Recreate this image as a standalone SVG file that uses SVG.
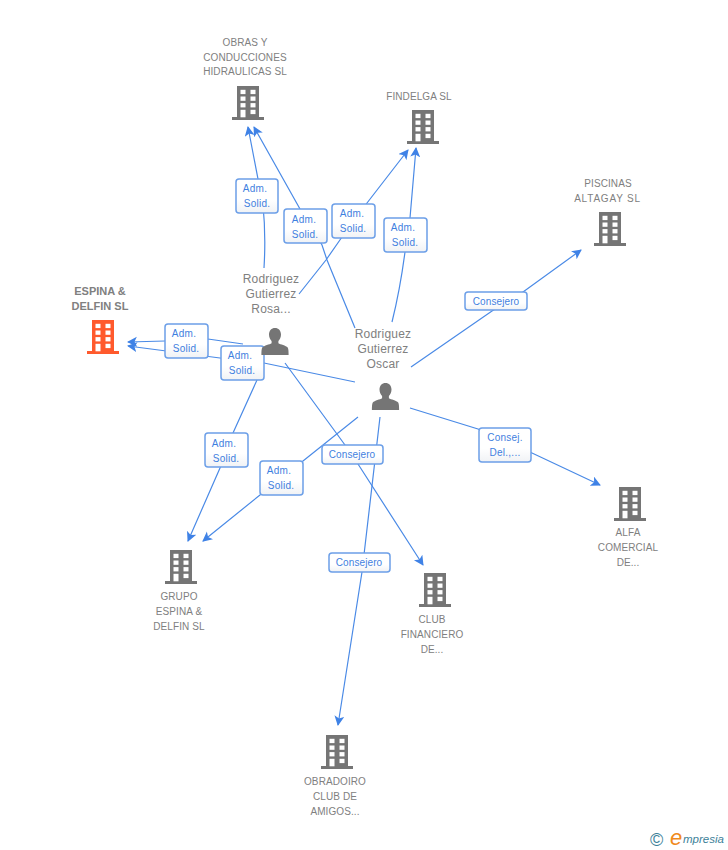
<svg xmlns="http://www.w3.org/2000/svg" width="728" height="850" viewBox="0 0 728 850">
<style>
.c{fill:none;stroke:#4a8ae6;stroke-width:1.2}
.n{font:10px "Liberation Sans",Arial,sans-serif;fill:#808080;text-anchor:middle;letter-spacing:.1px}
.p{font:12px "Liberation Sans",Arial,sans-serif;fill:#808080;text-anchor:middle;letter-spacing:.2px}
.b{font:bold 11px "Liberation Sans",Arial,sans-serif;fill:#808080;text-anchor:middle}
.l{font:10px "Liberation Sans",Arial,sans-serif;fill:#3f7fe0;text-anchor:middle;letter-spacing:.25px}
.k{letter-spacing:.1px}
.box{fill:url(#g);stroke:#6c9fe8;stroke-width:1.5}
.w{fill:#fff}
</style>
<defs>
<linearGradient id="g" x1="0" y1="0" x2="0" y2="1"><stop offset="0" stop-color="#fff"/><stop offset=".6" stop-color="#fff"/><stop offset="1" stop-color="#f0f2f5"/></linearGradient>
<marker id="a" markerWidth="11" markerHeight="11" refX="9" refY="5" orient="auto" markerUnits="userSpaceOnUse"><path d="M0 0L10 5L0 10L2.500 5Z" fill="#3f82e6"/></marker>
<symbol id="bld" width="32" height="34" overflow="visible">
<path d="M5 0H27V31H32V34H0V31H5Z"/>
<g class="w"><rect x="8.5" y="3.800" width="5" height="4.300"/><rect x="18.500" y="3.800" width="5" height="4.300"/><rect x="8.5" y="10.500" width="5" height="4.300"/><rect x="18.500" y="10.500" width="5" height="4.300"/><rect x="8.5" y="17.100" width="5" height="4.300"/><rect x="18.500" y="17.100" width="5" height="4.300"/><rect x="8.5" y="23.800" width="5" height="7.500"/><rect x="18.500" y="23.800" width="5" height="4.300"/></g>
</symbol>
<symbol id="per" width="28" height="28" overflow="visible">
<path d="M14 0c3.500 0 6 2.700 6 6.500c0 2.800-1.200 5-2.600 6.500v2.300c2 1.200 7.500 2.300 9.300 4.200c.8 1 .9 4.500.9 7.500H.4c0-3 .1-6.500.9-7.500c1.800-1.900 7.300-3 9.300-4.200V13C9.200 11.500 8 9.300 8 6.500C8 2.700 10.500 0 14 0Z"/>
</symbol>
</defs>
<rect width="728" height="850" fill="#fff"/>
<g id="connectors">
<path class="c" marker-end="url(#a)" d="M264 268Q266 235 263 205L248 127"/>
<path class="c" marker-end="url(#a)" d="M355 328L327 260L322 245L300 209L254 127"/>
<path class="c" marker-end="url(#a)" d="M299 294L326 260L342 237L367 203L408 150"/>
<path class="c" marker-end="url(#a)" d="M392 322Q400 290 405 252L410 218L416 148"/>
<path class="c" marker-end="url(#a)" d="M411 367L492 311L523 292L581 250"/>
<path class="c" marker-end="url(#a)" d="M410 408L478 429L532 453L600 485"/>
<path class="c" marker-end="url(#a)" d="M285 363L345 445L358 464L423 565"/>
<path class="c" marker-end="url(#a)" d="M380 417L362 572L338 725"/>
<path class="c" marker-end="url(#a)" d="M358 417L303 461L260 495L203 541"/>
<path class="c" marker-end="url(#a)" d="M257 380L233 433L220 468L188 541"/>
<path class="c" marker-end="url(#a)" d="M243 344L208 339L165 341L128 342"/>
<path class="c" marker-end="url(#a)" d="M355 382L264 363L220 358L128 346"/>
</g>
<g id="labels">
<g id="lb1"><rect class="box" x="236" y="179" width="42" height="34" rx="3"/><text class="l" x="255" y="192">Adm.</text><text class="l" x="257" y="207">Solid.</text></g>
<g id="lb2"><rect class="box" x="284" y="209" width="43" height="34" rx="3"/><text class="l" x="304" y="223">Adm.</text><text class="l" x="305" y="238">Solid.</text></g>
<g id="lb3"><rect class="box" x="332" y="204" width="43" height="34" rx="3"/><text class="l" x="352" y="217">Adm.</text><text class="l" x="353" y="232">Solid.</text></g>
<g id="lb4"><rect class="box" x="384" y="218" width="43" height="34" rx="3"/><text class="l" x="403" y="231">Adm.</text><text class="l" x="405" y="246">Solid.</text></g>
<g id="lb5"><rect class="box" x="465" y="292" width="62" height="18" rx="3"/><text class="l k" x="496" y="305">Consejero</text></g>
<g id="lb6"><rect class="box" x="165" y="324" width="43" height="34" rx="3"/><text class="l" x="184" y="337">Adm.</text><text class="l" x="186" y="352">Solid.</text></g>
<g id="lb7"><rect class="box" x="221" y="346" width="43" height="34" rx="3"/><text class="l" x="240" y="359">Adm.</text><text class="l" x="242" y="374">Solid.</text></g>
<g id="lb8"><rect class="box" x="205" y="433" width="43" height="34" rx="3"/><text class="l" x="224" y="447">Adm.</text><text class="l" x="226" y="462">Solid.</text></g>
<g id="lb9"><rect class="box" x="260" y="461" width="43" height="34" rx="3"/><text class="l" x="279" y="474">Adm.</text><text class="l" x="281" y="489">Solid.</text></g>
<g id="lb10"><rect class="box" x="322" y="445" width="61" height="19" rx="3"/><text class="l k" x="352" y="458">Consejero</text></g>
<g id="lb11"><rect class="box" x="479" y="428" width="52" height="34" rx="3"/><text class="l" x="505" y="441">Consej.</text><text class="l" x="505" y="456">Del.,...</text></g>
<g id="lb12"><rect class="box" x="329" y="553" width="61" height="19" rx="3"/><text class="l k" x="359" y="566">Consejero</text></g>
</g>
<g id="obras"><text class="n" x="245" y="46">OBRAS Y</text><text class="n" x="245" y="61">CONDUCCIONES</text><text class="n" x="245" y="75">HIDRAULICAS SL</text><use href="#bld" x="232" y="86" fill="#757575"/></g>
<g id="findelga"><text class="n" x="419" y="100">FINDELGA SL</text><use href="#bld" x="407" y="110" fill="#757575"/></g>
<g id="piscinas"><text class="n" x="608" y="187">PISCINAS</text><text class="n" x="607.500" y="202" style="letter-spacing:.8px">ALTAGAY SL</text><use href="#bld" x="594" y="212" fill="#757575"/></g>
<g id="espina"><text class="b" x="100" y="295">ESPINA &amp;</text><text class="b" x="100" y="310">DELFIN SL</text><use href="#bld" x="87" y="320" fill="#ff5a2d"/></g>
<g id="rosa"><text class="p" x="271" y="283">Rodriguez</text><text class="p" x="271" y="298">Gutierrez</text><text class="p" x="271" y="313">Rosa...</text><use href="#per" x="261" y="328" fill="#757575"/></g>
<g id="oscar"><text class="p" x="383" y="338">Rodriguez</text><text class="p" x="383" y="353">Gutierrez</text><text class="p" x="383" y="368">Oscar</text><use href="#per" x="371.500" y="383" fill="#757575"/></g>
<g id="alfa"><use href="#bld" x="614" y="487" fill="#757575"/><text class="n" x="628" y="536">ALFA</text><text class="n" x="628" y="551">COMERCIAL</text><text class="n" x="628" y="566">DE...</text></g>
<g id="grupo"><use href="#bld" x="165" y="550" fill="#757575"/><text class="n" x="179" y="600">GRUPO</text><text class="n" x="179" y="615">ESPINA &amp;</text><text class="n" x="179" y="630">DELFIN SL</text></g>
<g id="club"><use href="#bld" x="419" y="573" fill="#757575"/><text class="n" x="432" y="623">CLUB</text><text class="n" x="432" y="638">FINANCIERO</text><text class="n" x="432" y="653">DE...</text></g>
<g id="obradoiro"><use href="#bld" x="321" y="735" fill="#757575"/><text class="n" x="335" y="785">OBRADOIRO</text><text class="n" x="335" y="800">CLUB DE</text><text class="n" x="335" y="815">AMIGOS...</text></g>
<g id="logo"><text x="650" y="846" style="font:18px 'Liberation Sans',sans-serif;fill:#3d7f99">©</text><text x="670" y="845" style="font:italic 22px 'Liberation Sans',sans-serif;fill:#f08a1d">e</text><text x="683" y="843" style="font:italic 11.5px 'Liberation Sans',sans-serif;fill:#3d7f99">mpresia</text></g>
</svg>
